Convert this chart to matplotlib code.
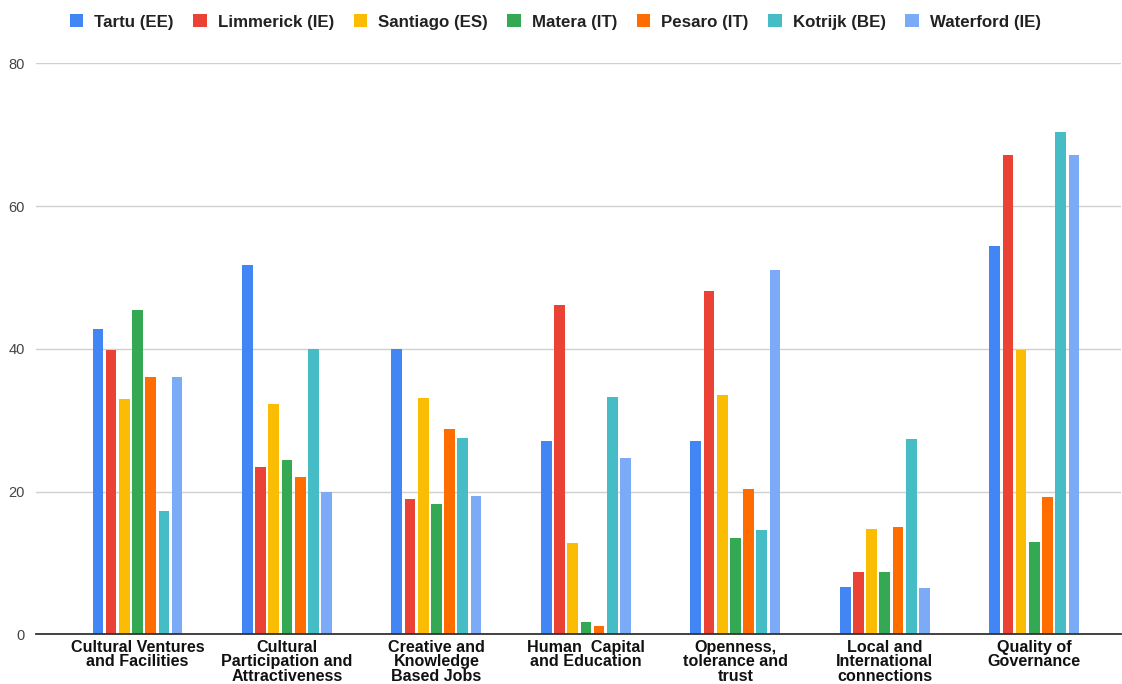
import matplotlib.pyplot as plt
import numpy as np

categories = ['Cultural Ventures\nand Facilities',
              'Cultural\nParticipation and\nAttractiveness',
              'Creative and\nKnowledge\nBased Jobs',
              'Human  Capital\nand Education',
              'Openness,\ntolerance and\ntrust',
              'Local and\nInternational\nconnections',
              'Quality of\nGovernance']

cities = ['Tartu (EE)', 'Limmerick (IE)', 'Santiago (ES)', 'Matera (IT)',
          'Pesaro (IT)', 'Kotrijk (BE)', 'Waterford (IE)']

tartu = [42.8, 51.8, 40.0, 27.1, 27.1, 6.6, 54.4]
limmerick = [39.9, 23.5, 18.9, 46.1, 48.1, 8.7, 67.1]
santiago = [33.0, 32.3, 33.1, 12.8, 33.5, 14.7, 39.9]
matera = [45.4, 24.4, 18.2, 1.7, 13.5, 8.7, 13.0]
pesaro = [36.1, 22.0, 28.7, 1.2, 20.4, 15.1, 19.2]
kotrijk = [17.3, 40.0, 27.5, 33.3, 14.6, 27.3, 70.4]
waterford = [36.1, 20.0, 19.4, 24.7, 51.1, 6.5, 67.1]

series = [tartu, limmerick, santiago, matera, pesaro, kotrijk, waterford]
colors = ['#4285F4', '#EA4335', '#FBBC04', '#34A853', '#FF6D01', '#46BDC6', '#7BAAF7']

plt.rcParams['font.family'] = ['Liberation Sans', 'DejaVu Sans']

fig = plt.figure(figsize=(11.22, 6.84), dpi=100)
ax = fig.add_axes([36 / 1122, 1 - 634.3 / 684, (1121 - 36) / 1122, 571 / 684])

x = np.arange(len(categories))
step = 0.0883
width = 0.072
for i, (vals, name, c) in enumerate(zip(series, cities, colors)):
    ax.bar(x + (i - 3) * step, vals, width, color=c, label=name, zorder=3)

ax.set_xlim(-0.679, 6.58)
ax.set_ylim(0, 80)
ax.set_yticks([0, 20, 40, 60, 80])
ax.tick_params(axis='y', length=0, pad=8, labelsize=10.5, labelcolor='#444444')
ax.tick_params(axis='x', length=0, pad=4)
ax.set_xticks(x)
ax.set_xticklabels(categories, fontsize=11.6, fontweight='bold', color='#111111',
                   linespacing=0.95)
ax.yaxis.grid(True, color='#d0d0d0', linewidth=1, zorder=0)
for s in ['top', 'right', 'left']:
    ax.spines[s].set_visible(False)
ax.spines['bottom'].set_color('#333333')
ax.spines['bottom'].set_linewidth(1.3)
ax.spines['bottom'].set_zorder(4)

leg = fig.legend(loc='center', bbox_to_anchor=(0.495, 1 - 22 / 684), ncol=7,
                 frameon=False, handlelength=0.8, handleheight=0.8,
                 handletextpad=0.65, columnspacing=1.15,
                 prop={'size': 12.2, 'weight': 'bold'})
for t in leg.get_texts():
    t.set_color('#222222')

fig.savefig('out.png', dpi=100)
